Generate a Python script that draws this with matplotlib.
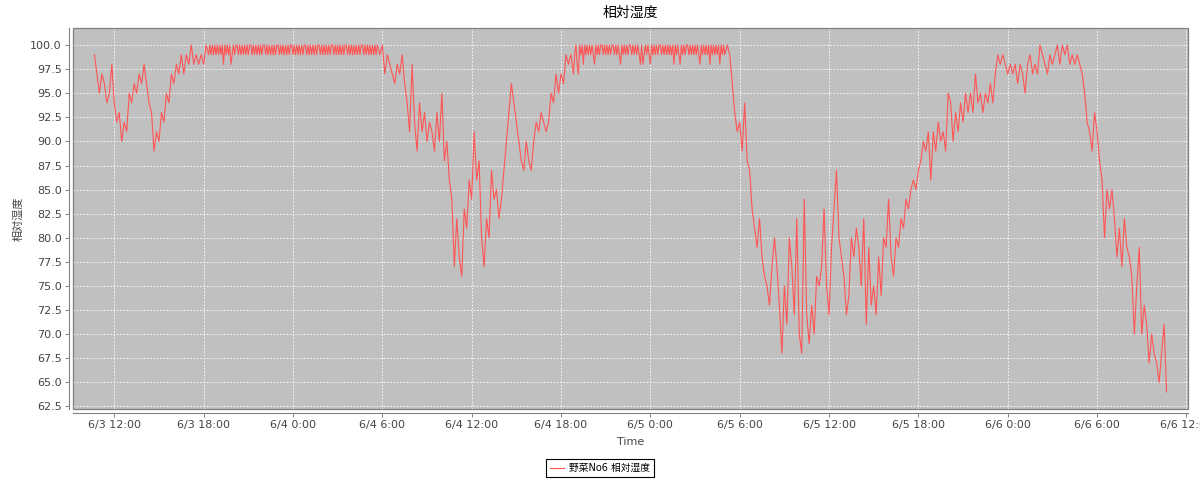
import matplotlib
matplotlib.use('Agg')
import matplotlib.pyplot as plt
import matplotlib.dates as mdates
import matplotlib.patches as patches
from matplotlib.ticker import MultipleLocator, FuncFormatter
import pandas as pd

plt.rcParams['font.family'] = ['DejaVu Sans', 'Noto Sans CJK JP']

# --- DATA (readings) ---
series_name = '野菜No6 相対湿度'

# each block: start time, sampling step
block_starts = ['2023-06-03 10:40', '2023-06-03 18:20', '2023-06-04 05:50',
                '2023-06-04 18:40', '2023-06-05 05:10', '2023-06-05 20:20']
block_steps = ['10min', '5min', '10min', '5min', '10min', '10min']

rh_day1_morning = [
    99, 97, 95, 97, 96, 94, 95, 98, 94, 92,
    93, 90, 92, 91, 95, 94, 96, 95, 97, 96,
    98, 96, 94, 93, 89, 91, 90, 93, 92, 95,
    94, 97, 96, 98, 97, 99, 97, 99, 98, 100,
    98, 99, 98, 99, 98, 100,
]
rh_night1 = [
    99, 100, 99, 100, 99, 100, 99, 100, 99, 100,
    99, 100, 98, 100, 99, 100, 99, 100, 98, 99,
    100, 99, 100, 100, 99, 100, 99, 100, 99, 100,
    99, 100, 99, 100, 100, 99, 100, 99, 100, 99,
    100, 99, 100, 99, 100, 100, 99, 100, 99, 100,
    99, 100, 99, 100, 99, 100, 100, 99, 100, 99,
    100, 99, 100, 99, 100, 99, 100, 100, 99, 100,
    99, 100, 99, 100, 99, 100, 99, 100, 100, 99,
    100, 99, 100, 99, 100, 99, 100, 99, 100, 100,
    99, 100, 99, 100, 99, 100, 99, 100, 99, 100,
    100, 99, 100, 99, 100, 99, 100, 99, 100, 99,
    100, 100, 99, 100, 99, 100, 99, 100, 99, 100,
    99, 100, 99, 100, 100, 99, 100, 99, 100, 99,
    100, 99, 100, 99, 100, 99, 100,
]
rh_day2 = [
    99, 100, 97, 99, 98, 97, 96, 98, 97, 99,
    96, 94, 91, 98, 92, 89, 94, 91, 93, 90,
    92, 91, 89, 93, 90, 95, 88, 90, 86, 84,
    77, 82, 78, 76, 83, 81, 86, 84, 91, 86,
    88, 80, 77, 82, 80, 87, 84, 85, 82, 84,
    87, 90, 93, 96, 94, 92, 90, 88, 87, 90,
    88, 87, 90, 92, 91, 93, 92, 91, 92, 95,
    94, 97, 95, 97, 96, 99, 98,
]
rh_night2 = [
    99, 98, 97, 99, 100, 98, 97, 100, 99, 100,
    98, 100, 99, 100, 99, 100, 99, 100, 99, 98,
    100, 99, 100, 99, 100, 100, 99, 100, 99, 100,
    99, 100, 99, 100, 100, 99, 100, 99, 100, 99,
    98, 100, 99, 100, 99, 100, 99, 100, 100, 99,
    100, 99, 100, 99, 100, 99, 98, 100, 98, 99,
    100, 99, 100, 99, 98, 100, 99, 100, 99, 100,
    99, 100, 100, 99, 100, 99, 100, 99, 100, 99,
    100, 99, 100, 98, 100, 99, 100, 99, 98, 100,
    99, 100, 99, 100, 100, 99, 100, 99, 100, 99,
    100, 99, 100, 99, 98, 100, 99, 100, 99, 100,
    99, 100, 98, 100, 99, 100, 99, 100, 99, 100,
    98, 100, 99, 100, 99,
]
rh_day3 = [
    100, 99, 96, 93, 91, 92, 89, 94, 88, 87,
    83, 81, 79, 82, 78, 76, 75, 73, 77, 80,
    77, 73, 68, 75, 71, 80, 77, 72, 82, 70,
    68, 84, 72, 69, 73, 70, 76, 75, 77, 83,
    75, 72, 79, 83, 87, 80, 78, 76, 72, 74,
    80, 78, 81, 79, 75, 82, 71, 79, 73, 75,
    72, 78, 74, 80, 79, 84, 78, 76, 80, 79,
    82, 81, 84, 83, 85, 86, 85, 87, 88, 90,
    89, 91, 86, 91, 89, 92, 90, 91, 89, 95,
    94,
]
rh_night3_day4 = [
    90, 93, 91, 94, 92, 95, 93, 95, 93, 97,
    94, 95, 93, 95, 94, 96, 94, 97, 99, 98,
    99, 98, 97, 98, 97, 98, 96, 98, 97, 95,
    98, 99, 97, 98, 97, 100, 99, 98, 97, 99,
    98, 99, 100, 98, 100, 99, 100, 98, 99, 98,
    99, 98, 97, 95, 92, 91, 89, 93, 91, 88,
    86, 80, 85, 83, 85, 82, 78, 81, 77, 82,
    79, 78, 76, 70, 75, 79, 70, 73, 71, 67,
    70, 68, 67, 65, 68, 71, 64,
]

blocks = [rh_day1_morning, rh_night1, rh_day2, rh_night2, rh_day3, rh_night3_day4]
times = []
rh = []
for start, step, vals in zip(block_starts, block_steps, blocks):
    times.extend(pd.date_range(start, periods=len(vals), freq=step))
    rh.extend(vals)

# --- FIGURE ---
fig = plt.figure(figsize=(12, 4.8), dpi=100)
fig.patch.set_facecolor('white')
ax = fig.add_axes([73 / 1200, 1 - 409.3 / 480, 1115 / 1200, (409.3 - 27.7) / 480])
ax.set_facecolor('#c0c0c0')

ax.plot(times, rh, color='#ff5555', linewidth=0.8)

ax.margins(x=0.02, y=0.05)
ax.grid(True, color='white', linestyle=(0, (2, 2)), linewidth=0.6)
ax.set_axisbelow(True)

# --- AXES ---
ax.xaxis.set_major_locator(mdates.HourLocator(byhour=[0, 6, 12, 18]))


def fmt_time(x, pos):
    d = mdates.num2date(x)
    return f"{d.month}/{d.day} {d.hour}:{d.minute:02d}"


ax.xaxis.set_major_formatter(FuncFormatter(fmt_time))
ax.yaxis.set_major_locator(MultipleLocator(2.5))
ax.yaxis.set_major_formatter(FuncFormatter(lambda v, p: f"{v:.1f}"))

ax.tick_params(axis='both', direction='out', length=3, width=0.7,
               color='#808080', labelcolor='#444444', labelsize=8, pad=2)

for side in ['top', 'right']:
    ax.spines[side].set_visible(False)
for side in ['left', 'bottom']:
    ax.spines[side].set_position(('outward', 3))
    ax.spines[side].set_color('#808080')
    ax.spines[side].set_linewidth(0.8)

outline = patches.Rectangle((0, 0), 1, 1, transform=ax.transAxes, fill=False,
                            edgecolor='#808080', linewidth=0.9, clip_on=False, zorder=5)
ax.add_patch(outline)

ax.set_title('相対湿度', fontsize=10, pad=8, color='black')
ax.set_xlabel('Time', fontsize=8, color='#444444', labelpad=5)
ax.set_ylabel('相対湿度', fontsize=8, color='#444444')
ax.yaxis.set_label_coords(-0.044, 0.5)

# --- LEGEND ---
leg = fig.legend([ax.lines[0]], [series_name], loc='center',
                 bbox_to_anchor=(0.5, 1 - 468 / 480), fontsize=7,
                 frameon=True, fancybox=False, framealpha=1,
                 edgecolor='black', handlelength=1.5, borderpad=0.4,
                 handletextpad=0.5)
leg.get_frame().set_linewidth(0.8)

fig.savefig('out.png', dpi=100)
